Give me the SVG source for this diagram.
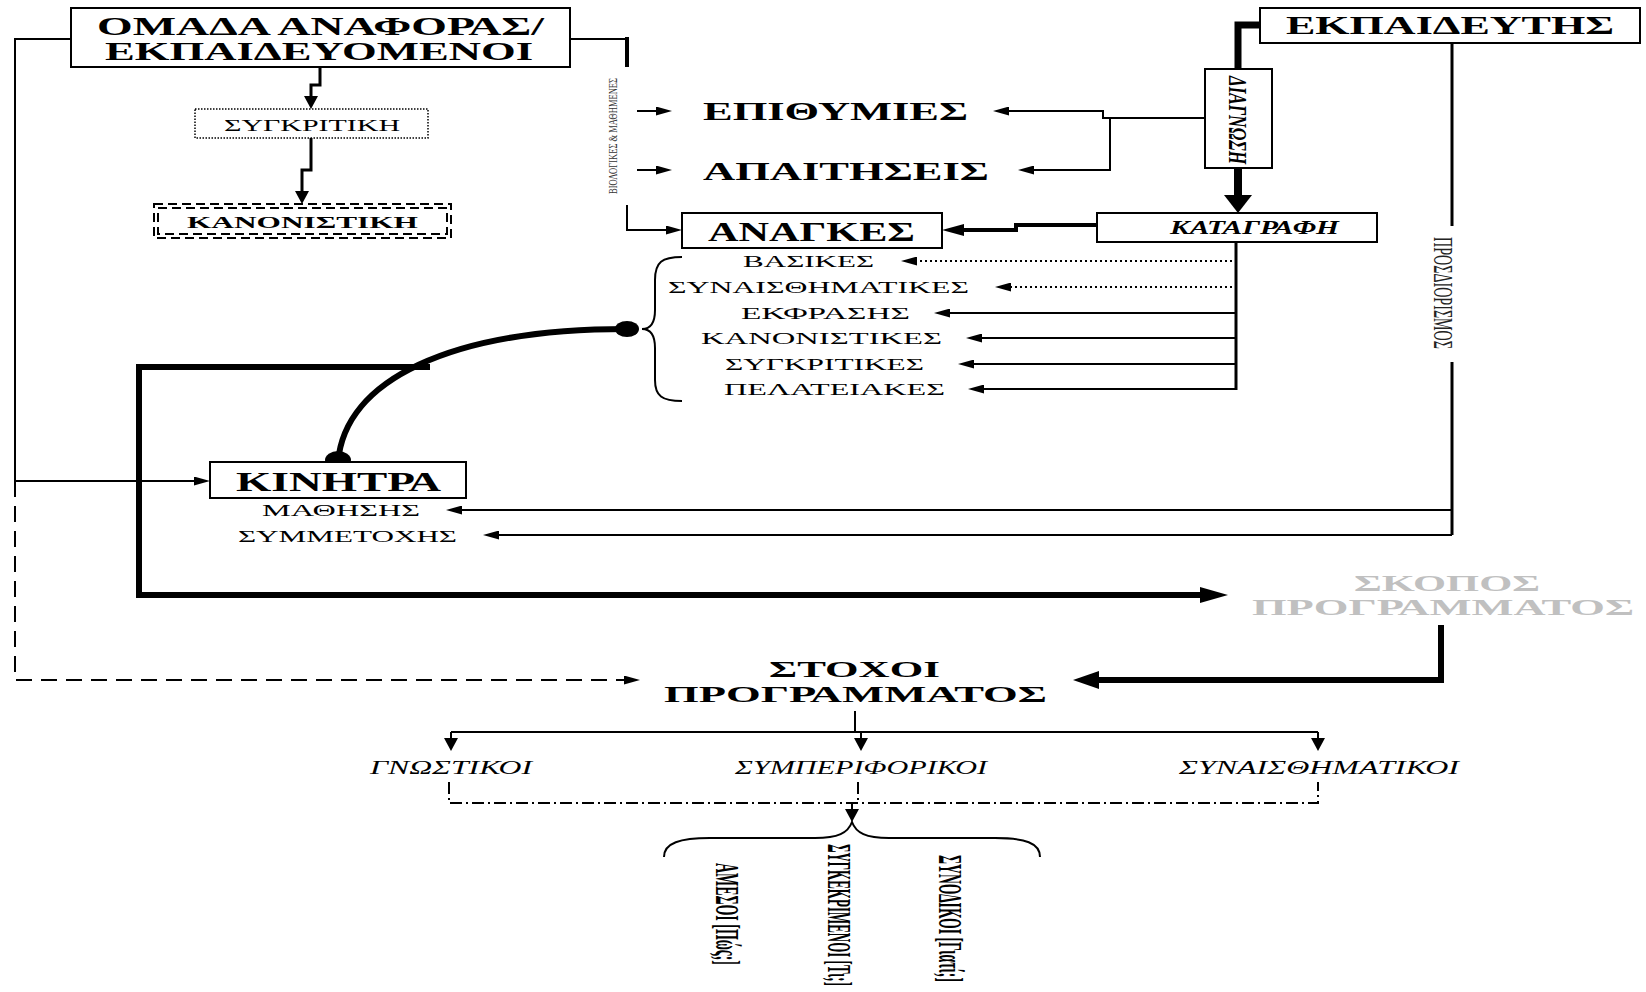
<svg xmlns="http://www.w3.org/2000/svg" width="1646" height="992" viewBox="0 0 1646 992">
<style>
text{font-family:"Liberation Serif","DejaVu Serif",serif;fill:#000}
.b{font-weight:bold}
.i{font-style:italic}
.box{fill:#fff;stroke:#000;stroke-width:2}
.ln{fill:none;stroke:#000;stroke-width:2}
.t3{stroke-width:3}
.t4{stroke-width:4}
.t6{stroke-width:6}
.t7{stroke-width:7}
.t8{stroke-width:8}
.dash{stroke-dasharray:16 9}
.dot{stroke-dasharray:2 3}
.dd{stroke-dasharray:12 4 2 4}
</style>
<defs>
<marker id="as" markerUnits="userSpaceOnUse" markerWidth="16" markerHeight="9" refX="0" refY="4.5" orient="auto"><path d="M0,0 L16,4.5 L0,9 z" fill="#000"/></marker>
<marker id="ad" markerUnits="userSpaceOnUse" markerWidth="13" markerHeight="14" refX="0" refY="7" orient="auto"><path d="M0,0 L13,7 L0,14 z" fill="#000"/></marker>
<marker id="am" markerUnits="userSpaceOnUse" markerWidth="22" markerHeight="12" refX="0" refY="6" orient="auto"><path d="M0,0 L22,6 L0,12 z" fill="#000"/></marker>
<marker id="al" markerUnits="userSpaceOnUse" markerWidth="28" markerHeight="16" refX="0" refY="8" orient="auto"><path d="M0,0 L28,8 L0,16 z" fill="#000"/></marker>
<marker id="ab" markerUnits="userSpaceOnUse" markerWidth="26" markerHeight="18" refX="0" refY="9" orient="auto"><path d="M0,0 L26,9 L0,18 z" fill="#000"/></marker>
<marker id="aw" markerUnits="userSpaceOnUse" markerWidth="18" markerHeight="28" refX="0" refY="14" orient="auto"><path d="M0,0 L18,14 L0,28 z" fill="#000"/></marker>
</defs>

<g id="connectors">
<path class="ln" d="M71,39 H15 V481 H194" marker-end="url(#as)"/>
<path class="ln dash" d="M15,481 V680 H624" marker-end="url(#as)"/>
<path class="ln" d="M570,39 H627"/>
<path class="ln t4" d="M627,37 V67"/>
<path class="ln" d="M627,205 V230 H666" marker-end="url(#as)"/>
<path class="ln" d="M637,111 H656" marker-end="url(#as)"/>
<path class="ln" d="M637,170 H656" marker-end="url(#as)"/>
<path class="ln t3" d="M320,67 V85 H311 V96" marker-end="url(#ad)"/>
<path class="ln t3" d="M311,138 V170 H302 V191" marker-end="url(#ad)"/>
<path class="ln t7" d="M1261,25 H1238 V70"/>
<path class="ln t8" d="M1238,168 V195" marker-end="url(#aw)"/>
<path class="ln" d="M1205,118 H1103 V111 H1009" marker-end="url(#as)"/>
<path class="ln" d="M1110,118 V170 H1034" marker-end="url(#as)"/>
<path class="ln t4" d="M1097,225 H1016 V230 H964" marker-end="url(#am)"/>
<path class="ln t3" d="M1236,242 V390"/>
<path class="ln dot" d="M1232,261 H917" marker-end="url(#as)"/>
<path class="ln dot" d="M1232,287 H1011" marker-end="url(#as)"/>
<path class="ln" d="M1236,313 H950" marker-end="url(#as)"/>
<path class="ln" d="M1236,338 H982" marker-end="url(#as)"/>
<path class="ln" d="M1236,364 H974" marker-end="url(#as)"/>
<path class="ln" d="M1236,389 H984" marker-end="url(#as)"/>
<path class="ln t3" d="M1452,43 V226"/>
<path class="ln t3" d="M1452,362 V535"/>
<path class="ln" d="M1452,510 H462" marker-end="url(#as)"/>
<path class="ln" d="M1452,535 H499" marker-end="url(#as)"/>
<path class="ln t6" d="M430,367 H139 V595 H1200" marker-end="url(#al)"/>
<path class="ln t6" d="M338,462 C345,380 450,329 627,329"/>
<ellipse cx="338" cy="460" rx="13" ry="9" fill="#000"/>
<ellipse cx="627" cy="329" rx="12" ry="8" fill="#000"/>
<path class="ln" d="M682,257 C662,257 655,262 655,280 L655,310 C655,324 650,329 642,329 C650,329 655,334 655,348 L655,380 C655,396 662,401 682,401"/>
<path class="ln t6" d="M1441,625 V680 H1099" marker-end="url(#ab)"/>
<path class="ln" d="M855,711 V732"/>
<path class="ln" d="M451,732 H1318"/>
<path class="ln" d="M451,732 V738" marker-end="url(#ad)"/>
<path class="ln" d="M861,732 V738" marker-end="url(#ad)"/>
<path class="ln" d="M1318,732 V738" marker-end="url(#ad)"/>
<path class="ln dd" d="M449,782 V803 H1318 V782"/>
<path class="ln dd" d="M858,782 V803"/>
<path class="ln" d="M852,803 V809" marker-end="url(#ad)"/>
<path class="ln" d="M664,857 C664,843 680,838 710,838 L815,838 C838,838 848,833 852,822 C856,833 866,838 889,838 L995,838 C1025,838 1040,843 1040,857"/>
</g>

<g id="n-omada">
<rect class="box" x="71" y="8" width="499" height="59"/>
<text class="b" x="97" y="35" font-size="25" textLength="447" lengthAdjust="spacingAndGlyphs">ΟΜΑΔΑ ΑΝΑΦΟΡΑΣ/</text>
<text class="b" x="105" y="60" font-size="25" textLength="428" lengthAdjust="spacingAndGlyphs">ΕΚΠΑΙΔΕΥΟΜΕΝΟΙ</text>
</g>
<g id="n-sygkritiki">
<rect x="195" y="109" width="233" height="29" fill="#fff" stroke="#000" stroke-width="1.5" stroke-dasharray="1.5 1.5"/>
<text x="224" y="131" font-size="17" textLength="176" lengthAdjust="spacingAndGlyphs">ΣΥΓΚΡΙΤΙΚΗ</text>
</g>
<g id="n-kanonistiki">
<rect x="154" y="204" width="297" height="34" fill="#fff" stroke="#000" stroke-width="2" stroke-dasharray="9 5"/>
<rect x="158" y="208" width="289" height="26" fill="none" stroke="#000" stroke-width="2" stroke-dasharray="9 5"/>
<text class="b" x="187" y="228" font-size="17" textLength="231" lengthAdjust="spacingAndGlyphs">ΚΑΝΟΝΙΣΤΙΚΗ</text>
</g>
<g id="n-biologikes">
<text transform="translate(617,136) rotate(-90)" x="0" y="0" text-anchor="middle" font-size="12" style="fill:#333" textLength="116" lengthAdjust="spacingAndGlyphs">ΒΙΟΛΟΓΙΚΕΣ &amp; ΜΑΘΗΜΕΝΕΣ</text>
</g>
<g id="n-epithymies">
<text class="b" x="703" y="120" font-size="26" textLength="265" lengthAdjust="spacingAndGlyphs">ΕΠΙΘΥΜΙΕΣ</text>
</g>
<g id="n-apaitiseis">
<text class="b" x="703" y="180" font-size="26" textLength="286" lengthAdjust="spacingAndGlyphs">ΑΠΑΙΤΗΣΕΙΣ</text>
</g>
<g id="n-anagkes">
<rect class="box" x="682" y="213" width="260" height="35"/>
<text class="b" x="708" y="241" font-size="28" textLength="207" lengthAdjust="spacingAndGlyphs">ΑΝΑΓΚΕΣ</text>
</g>
<g id="n-ekpaideutis">
<rect class="box" x="1260" y="8" width="380" height="35"/>
<text class="b" x="1286" y="34" font-size="26" textLength="328" lengthAdjust="spacingAndGlyphs">ΕΚΠΑΙΔΕΥΤΗΣ</text>
</g>
<g id="n-diagnosi">
<rect class="box" x="1205" y="69" width="67" height="99"/>
<text class="b i" transform="translate(1229,76) rotate(90)" x="0" y="0" font-size="26" textLength="88" lengthAdjust="spacingAndGlyphs">ΔΙΑΓΝΩΣΗ</text>
</g>
<g id="n-katagrafi">
<rect class="box" x="1097" y="213" width="280" height="29"/>
<text class="b i" x="1170" y="234" font-size="19" textLength="169" lengthAdjust="spacingAndGlyphs">ΚΑΤΑΓΡΑΦΗ</text>
</g>
<g id="n-list">
<text x="743" y="267" font-size="17" textLength="131" lengthAdjust="spacingAndGlyphs">ΒΑΣΙΚΕΣ</text>
<text x="668" y="293" font-size="17" textLength="301" lengthAdjust="spacingAndGlyphs">ΣΥΝΑΙΣΘΗΜΑΤΙΚΕΣ</text>
<text x="741" y="319" font-size="17" textLength="169" lengthAdjust="spacingAndGlyphs">ΕΚΦΡΑΣΗΣ</text>
<text x="701" y="344" font-size="17" textLength="241" lengthAdjust="spacingAndGlyphs">ΚΑΝΟΝΙΣΤΙΚΕΣ</text>
<text x="725" y="370" font-size="17" textLength="199" lengthAdjust="spacingAndGlyphs">ΣΥΓΚΡΙΤΙΚΕΣ</text>
<text x="724" y="395" font-size="17" textLength="221" lengthAdjust="spacingAndGlyphs">ΠΕΛΑΤΕΙΑΚΕΣ</text>
</g>
<g id="n-prosdiorismos">
<text transform="translate(1434,237) rotate(90)" x="0" y="0" font-size="28" style="fill:#222" textLength="112" lengthAdjust="spacingAndGlyphs">ΠΡΟΣΔΙΟΡΙΣΜΟΣ</text>
</g>
<g id="n-kinitra">
<rect class="box" x="210" y="462" width="256" height="36"/>
<text class="b" x="236" y="491" font-size="28" textLength="205" lengthAdjust="spacingAndGlyphs">ΚΙΝΗΤΡΑ</text>
<text x="262" y="516" font-size="17" textLength="158" lengthAdjust="spacingAndGlyphs">ΜΑΘΗΣΗΣ</text>
<text x="238" y="542" font-size="17" textLength="219" lengthAdjust="spacingAndGlyphs">ΣΥΜΜΕΤΟΧΗΣ</text>
</g>
<g id="n-skopos">
<text class="b" x="1354" y="591" font-size="24" style="fill:#c0c0c0" textLength="186" lengthAdjust="spacingAndGlyphs">ΣΚΟΠΟΣ</text>
<text class="b" x="1252" y="615" font-size="24" style="fill:#c0c0c0" textLength="382" lengthAdjust="spacingAndGlyphs">ΠΡΟΓΡΑΜΜΑΤΟΣ</text>
</g>
<g id="n-stoxoi">
<text class="b" x="769" y="677" font-size="24" textLength="171" lengthAdjust="spacingAndGlyphs">ΣΤΟΧΟΙ</text>
<text class="b" x="664" y="702" font-size="24" textLength="383" lengthAdjust="spacingAndGlyphs">ΠΡΟΓΡΑΜΜΑΤΟΣ</text>
</g>
<g id="n-gnostikoi">
<text class="i" x="370" y="774" font-size="19" textLength="162" lengthAdjust="spacingAndGlyphs">ΓΝΩΣΤΙΚΟΙ</text>
</g>
<g id="n-symperiforikoi">
<text class="i" x="735" y="774" font-size="19" textLength="252" lengthAdjust="spacingAndGlyphs">ΣΥΜΠΕΡΙΦΟΡΙΚΟΙ</text>
</g>
<g id="n-synaisthimatikoi">
<text class="i" x="1179" y="774" font-size="19" textLength="280" lengthAdjust="spacingAndGlyphs">ΣΥΝΑΙΣΘΗΜΑΤΙΚΟΙ</text>
</g>
<g id="n-amesoi">
<text class="b" transform="translate(716,863) rotate(90) scale(1,2.4)" x="0" y="0" font-size="14" textLength="102" lengthAdjust="spacingAndGlyphs">ΑΜΕΣΟΙ [Πώς;]</text>
</g>
<g id="n-sygkekrimenoi">
<text class="b" transform="translate(828,844) rotate(90) scale(1,2.6)" x="0" y="0" font-size="13" textLength="142" lengthAdjust="spacingAndGlyphs">ΣΥΓΚΕΚΡΙΜΕΝΟΙ [Τι;]</text>
</g>
<g id="n-synodikoi">
<text class="b" transform="translate(939,855) rotate(90) scale(1,2.4)" x="0" y="0" font-size="14" textLength="127" lengthAdjust="spacingAndGlyphs">ΣΥΝΟΔΙΚΟΙ [Γιατί;]</text>
</g>
</svg>
